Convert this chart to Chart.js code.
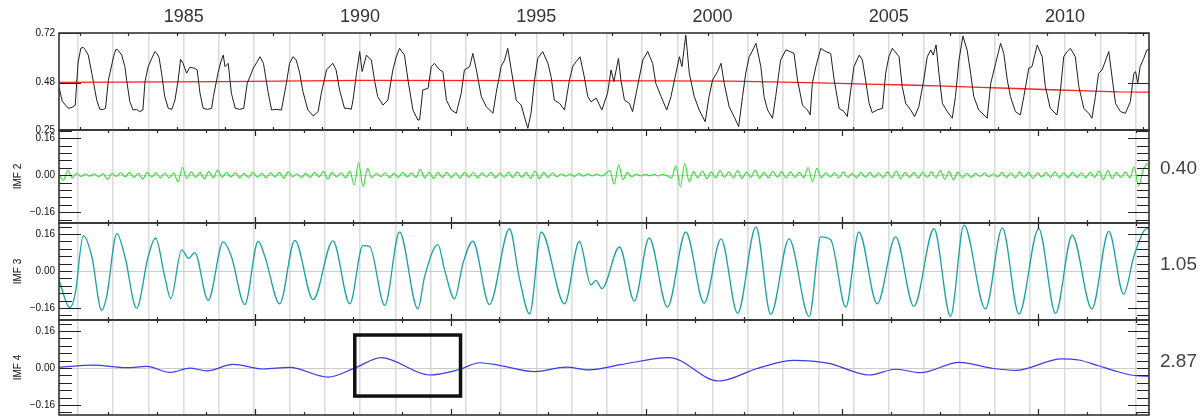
<!DOCTYPE html>
<html>
<head>
<meta charset="utf-8">
<script src="https://cdn.jsdelivr.net/npm/chart.js@4.4.1/dist/chart.umd.min.js"></script>
<style>
  html, body { margin: 0; padding: 0; background: #fff; }
  #wrap { position: relative; width: 1204px; height: 420px; overflow: hidden; }
  #wrap canvas { position: absolute; left: 0; top: 0; }
</style>
</head>
<body>
<div id="wrap">
  <canvas id="p1" width="1204" height="420"></canvas>
  <canvas id="p2" width="1204" height="420"></canvas>
  <canvas id="p3" width="1204" height="420"></canvas>
  <canvas id="p4" width="1204" height="420"></canvas>
</div>
<script>
// time axis (decimal years)
var xMin = 1981.46, xMax = 2012.38;
var gridYears = [1982, 1983, 1984, 1985, 1986, 1987, 1988, 1989, 1990, 1991, 1992, 1993, 1994, 1995, 1996,
  1997, 1998, 1999, 2000, 2001, 2002, 2003, 2004, 2005, 2006, 2007, 2008, 2009, 2010, 2011, 2012];
var yearLabels = [1985, 1990, 1995, 2000, 2005, 2010];

// top panel: observed series
var obsYears = [
  1981.46, 1981.55, 1981.65, 1981.73, 1981.83, 1981.92,
  1982.00, 1982.08, 1982.15, 1982.20, 1982.29, 1982.39, 1982.53, 1982.62, 1982.72, 1982.78, 1982.86,
  1983.00, 1983.07, 1983.12, 1983.24, 1983.33, 1983.38, 1983.47, 1983.56, 1983.66, 1983.75, 1983.84, 1983.90, 1983.99,
  1984.10, 1984.18, 1984.24, 1984.30, 1984.37, 1984.46, 1984.56, 1984.66, 1984.75, 1984.84, 1984.91, 1984.98,
  1985.08, 1985.17, 1985.31, 1985.38, 1985.46, 1985.55, 1985.67, 1985.79, 1985.84, 1985.97,
  1986.05, 1986.12, 1986.17, 1986.26, 1986.35, 1986.46, 1986.58, 1986.70, 1986.80, 1986.97,
  1987.08, 1987.16, 1987.26, 1987.39, 1987.49, 1987.63, 1987.77, 1987.91,
  1988.00, 1988.10, 1988.19, 1988.29, 1988.38, 1988.52, 1988.67, 1988.81, 1988.90,
  1989.05, 1989.15, 1989.23, 1989.32, 1989.42, 1989.56, 1989.66, 1989.75, 1989.80, 1989.90, 1989.99,
  1990.06, 1990.18, 1990.32, 1990.41, 1990.50, 1990.65, 1990.79, 1990.93,
  1991.02, 1991.12, 1991.26, 1991.36, 1991.50, 1991.64, 1991.69, 1991.78, 1991.93,
  1992.02, 1992.11, 1992.26, 1992.35, 1992.45, 1992.59, 1992.73, 1992.87, 1992.96,
  1993.11, 1993.20, 1993.30, 1993.44, 1993.58, 1993.77, 1993.86,
  1994.00, 1994.10, 1994.19, 1994.29, 1994.43, 1994.57, 1994.69, 1994.76, 1994.85, 1994.95,
  1995.04, 1995.18, 1995.33, 1995.42, 1995.51, 1995.66, 1995.80, 1995.94,
  1996.03, 1996.13, 1996.24, 1996.36, 1996.46, 1996.55, 1996.70, 1996.86,
  1997.02, 1997.12, 1997.20, 1997.33, 1997.40, 1997.50, 1997.64, 1997.73, 1997.87,
  1998.02, 1998.16, 1998.30, 1998.39, 1998.54, 1998.70, 1998.82, 1998.96,
  1999.06, 1999.13, 1999.20, 1999.24, 1999.34, 1999.48, 1999.62, 1999.79, 1999.90,
  2000.00, 2000.14, 2000.24, 2000.33, 2000.47, 2000.61, 2000.74, 2000.85, 2000.94,
  2001.04, 2001.12, 2001.23, 2001.37, 2001.46, 2001.56, 2001.70, 2001.79, 2001.93,
  2002.08, 2002.20, 2002.31, 2002.41, 2002.55, 2002.69, 2002.77, 2002.83, 2002.93,
  2003.07, 2003.21, 2003.35, 2003.45, 2003.59, 2003.73, 2003.82, 2003.92,
  2004.01, 2004.16, 2004.25, 2004.34, 2004.44, 2004.53, 2004.67, 2004.82, 2004.91,
  2005.00, 2005.10, 2005.29, 2005.38, 2005.48, 2005.62, 2005.73, 2005.85, 2005.99,
  2006.09, 2006.19, 2006.26, 2006.34, 2006.42, 2006.52, 2006.66, 2006.80, 2006.89, 2006.99,
  2007.10, 2007.22, 2007.32, 2007.41, 2007.55, 2007.70, 2007.79, 2007.89,
  2008.03, 2008.17, 2008.26, 2008.36, 2008.45, 2008.59, 2008.73, 2008.83, 2008.97,
  2009.06, 2009.21, 2009.35, 2009.44, 2009.58, 2009.77, 2009.87, 2009.96,
  2010.06, 2010.15, 2010.29, 2010.39, 2010.53, 2010.67, 2010.76, 2010.86, 2010.95,
  2011.05, 2011.24, 2011.33, 2011.43, 2011.57, 2011.71, 2011.85, 2011.95,
  2012.00, 2012.06, 2012.13, 2012.23, 2012.32, 2012.38
];
var obsValues = [
  0.46, 0.39, 0.37, 0.355, 0.36, 0.37,
  0.575, 0.647, 0.65, 0.64, 0.613, 0.525, 0.395, 0.35, 0.35, 0.355, 0.49,
  0.60, 0.64, 0.64, 0.613, 0.557, 0.49, 0.387, 0.347, 0.35, 0.339, 0.347, 0.484, 0.557,
  0.60, 0.63, 0.62, 0.60, 0.525, 0.412, 0.355, 0.35, 0.395, 0.492, 0.592, 0.573,
  0.525, 0.554, 0.549, 0.541, 0.428, 0.355, 0.35, 0.355, 0.412, 0.525,
  0.58, 0.613, 0.557, 0.573, 0.428, 0.355, 0.35, 0.355, 0.476, 0.549,
  0.58, 0.605, 0.573, 0.436, 0.347, 0.35, 0.347, 0.476,
  0.573, 0.605, 0.589, 0.525, 0.436, 0.347, 0.318, 0.339, 0.428,
  0.541, 0.56, 0.573, 0.541, 0.444, 0.355, 0.355, 0.35, 0.395, 0.525, 0.63,
  0.533, 0.613, 0.589, 0.492, 0.412, 0.371, 0.395, 0.541,
  0.60, 0.646, 0.613, 0.492, 0.347, 0.298, 0.30, 0.444, 0.452,
  0.557, 0.573, 0.541, 0.533, 0.395, 0.347, 0.331, 0.428, 0.541,
  0.557, 0.621, 0.541, 0.412, 0.363, 0.331, 0.428,
  0.557, 0.589, 0.646, 0.541, 0.395, 0.371, 0.298, 0.258, 0.331, 0.492,
  0.597, 0.63, 0.573, 0.508, 0.395, 0.379, 0.347, 0.492,
  0.557, 0.581, 0.605, 0.508, 0.412, 0.387, 0.404, 0.347,
  0.428, 0.541, 0.484, 0.597, 0.492, 0.395, 0.379, 0.339, 0.46,
  0.589, 0.63, 0.573, 0.476, 0.412, 0.347, 0.412, 0.525,
  0.605, 0.557, 0.654, 0.71, 0.525, 0.412, 0.347, 0.29, 0.412,
  0.492, 0.533, 0.573, 0.476, 0.363, 0.315, 0.266, 0.412, 0.525,
  0.605, 0.63, 0.67, 0.557, 0.412, 0.347, 0.307, 0.412, 0.589,
  0.638, 0.63, 0.621, 0.492, 0.371, 0.347, 0.323, 0.476, 0.557,
  0.646, 0.63, 0.621, 0.492, 0.355, 0.339, 0.315, 0.444,
  0.557, 0.613, 0.589, 0.492, 0.379, 0.334, 0.347, 0.355, 0.525,
  0.605, 0.646, 0.605, 0.46, 0.379, 0.347, 0.315, 0.363, 0.492,
  0.605, 0.638, 0.613, 0.662, 0.525, 0.379, 0.339, 0.307, 0.412, 0.589,
  0.705, 0.638, 0.525, 0.412, 0.347, 0.323, 0.307, 0.476,
  0.573, 0.67, 0.621, 0.492, 0.412, 0.339, 0.323, 0.412, 0.549,
  0.557, 0.662, 0.605, 0.46, 0.355, 0.323, 0.444, 0.605,
  0.63, 0.646, 0.605, 0.46, 0.355, 0.331, 0.307, 0.412, 0.525,
  0.541, 0.63, 0.508, 0.379, 0.339, 0.331, 0.387, 0.525,
  0.533, 0.476, 0.557, 0.597, 0.638, 0.64
];

// top panel: trend (red)
var trendYears = [1981.46, 1986.1, 1990.05, 1996.0, 2000.5, 2002.0, 2003.3, 2004.4, 2005.5, 2006.6, 2007.6, 2008.6, 2009.6, 2010.6, 2011.5, 2012.38];
var trendValues = [0.481, 0.484, 0.490, 0.489, 0.487, 0.482, 0.477, 0.472, 0.468, 0.463, 0.457, 0.451, 0.445, 0.440, 0.435, 0.434];

// IMF 2: alternating extremes every 1.5 months
var imf2Start = 1981.46, imf2Step = 0.125;
var imf2Values = [
  0.0, -0.022, 0.02, -0.012, 0.008, -0.006, 0.005, -0.005,
  0.006, -0.008, 0.007, -0.019, 0.008, -0.006, 0.01, -0.008,
  0.012, -0.01, 0.008, -0.017, 0.012, -0.008, 0.01, -0.012,
  0.009, -0.012, 0.01, -0.029, 0.033, -0.014, 0.014, -0.01,
  0.012, -0.016, 0.015, -0.012, 0.022, -0.01, 0.012, -0.008,
  0.01, -0.012, 0.008, -0.01, 0.012, -0.009, 0.008, -0.012,
  0.01, -0.008, 0.012, -0.014, 0.015, -0.008, 0.006, -0.01,
  0.008, -0.01, 0.012, -0.008, 0.016, -0.017, 0.012, -0.008,
  0.01, -0.012, 0.018, -0.043, 0.053, -0.05, 0.029, -0.012,
  0.008, -0.007, 0.01, -0.012, 0.008, -0.01, 0.012, -0.008,
  0.01, -0.01, 0.024, -0.012, 0.012, -0.015, 0.012, -0.01,
  0.012, -0.012, 0.01, -0.013, 0.012, -0.01, 0.011, -0.012,
  0.01, -0.009, 0.012, -0.012, 0.009, -0.01, 0.013, -0.011,
  0.014, -0.01, 0.012, -0.014, 0.017, -0.016, 0.012, -0.01,
  0.01, -0.008, 0.006, -0.005, 0.005, -0.006, 0.008, -0.005,
  0.006, -0.004, 0.005, -0.004, 0.005, 0.02, -0.039, 0.043,
  -0.02, 0.012, -0.008, 0.005, -0.004, 0.004, -0.003, 0.004,
  -0.004, 0.004, -0.003, -0.012, 0.04, -0.05, 0.05, -0.029,
  0.015, -0.012, 0.018, -0.015, 0.014, -0.012, 0.02, -0.01,
  0.014, -0.012, 0.02, -0.015, 0.013, -0.01, 0.022, -0.014,
  0.012, -0.012, 0.017, -0.01, 0.015, -0.012, 0.014, -0.01,
  0.012, -0.012, 0.033, -0.029, 0.029, -0.012, 0.01, -0.008,
  0.01, -0.012, 0.014, -0.01, 0.008, -0.012, 0.012, -0.01,
  0.012, -0.01, 0.01, -0.012, 0.014, -0.012, 0.018, -0.016,
  0.012, -0.01, 0.012, -0.014, 0.012, -0.01, 0.014, -0.012,
  0.02, -0.018, 0.016, -0.02, 0.014, -0.012, 0.008, -0.01,
  0.008, -0.006, 0.01, -0.008, 0.006, -0.008, 0.012, -0.01,
  0.01, -0.012, 0.014, -0.01, 0.012, -0.014, 0.01, -0.008,
  0.012, -0.01, 0.014, -0.012, 0.01, -0.012, 0.012, -0.01,
  0.01, -0.012, 0.012, -0.01, 0.018, -0.02, 0.02, -0.015,
  0.012, -0.01, 0.014, -0.012, 0.036, -0.048, 0.02, 0.053
];

// IMF 3: turning points
var imf3Years = [
  1981.46, 1981.77, 1981.92, 1982.15, 1982.39, 1982.67, 1982.81, 1983.10, 1983.33, 1983.66, 1983.99,
  1984.20, 1984.46, 1984.63, 1984.94, 1985.14, 1985.31, 1985.69, 1986.12, 1986.35, 1986.73,
  1987.11, 1987.30, 1987.72, 1988.15, 1988.67, 1989.23, 1989.71, 1990.08, 1990.27, 1990.70,
  1991.12, 1991.64, 1991.83, 1992.21, 1992.40, 1992.68, 1992.92, 1993.20, 1993.67, 1994.24,
  1994.52, 1994.81, 1995.14, 1995.80, 1996.22, 1996.55, 1996.69, 1996.86, 1997.36, 1997.78,
  1998.20, 1998.72, 1999.24, 1999.76, 2000.24, 2000.71, 2001.23, 2001.65, 2002.17, 2002.74,
  2003.07, 2003.35, 2003.78, 2004.15, 2004.67, 2005.19, 2005.71, 2006.28, 2006.75, 2007.13,
  2007.74, 2008.22, 2008.69, 2009.25, 2009.73, 2010.20, 2010.76, 2011.24, 2011.66, 2011.95,
  2012.27, 2012.38
];
var imf3Values = [
  -0.04, -0.159, -0.098, 0.153, 0.063, -0.171, -0.112, 0.162, 0.063, -0.161, 0.063,
  0.143, -0.025, -0.12, 0.092, 0.055, 0.08, -0.127, 0.126, 0.063, -0.145,
  0.129, 0.063, -0.142, 0.133, -0.124, 0.131, -0.142, 0.11, 0.107, -0.149,
  0.169, -0.164, -0.025, 0.114, 0.004, -0.12, 0.034, 0.129, -0.145, 0.183,
  -0.032, -0.186, 0.169, -0.142, 0.129, -0.06, -0.04, -0.076, 0.104, -0.13,
  0.143, -0.156, 0.169, -0.139, 0.139, -0.183, 0.191, -0.188, 0.139, -0.197,
  0.148, 0.136, -0.156, 0.169, -0.142, 0.148, -0.153, 0.183, -0.197, 0.199,
  -0.164, 0.187, -0.186, 0.184, -0.183, 0.155, -0.164, 0.172, -0.10, 0.063,
  0.18, 0.185
];

// IMF 4: turning points
var imf4Years = [
  1981.46, 1982.43, 1983.38, 1983.95, 1984.61, 1985.17, 1985.65, 1986.40, 1987.25, 1988.00,
  1989.09, 1989.85, 1990.60, 1991.97, 1992.82, 1993.39, 1993.95, 1994.95, 1995.85, 1996.50,
  1997.40, 1998.77, 2000.17, 2001.30, 2002.31, 2003.30, 2004.44, 2005.20, 2005.90, 2006.99,
  2007.90, 2008.60, 2009.90, 2010.39, 2010.95, 2011.50, 2012.00, 2012.38
];
var imf4Values = [
  0.003, 0.013, 0.002, 0.007, -0.019, 0.0, -0.012, 0.016, -0.004, 0.003,
  -0.039, 0.0, 0.045, -0.03, -0.006, 0.023, 0.012, -0.015, 0.004, -0.008,
  0.015, 0.045, -0.056, 0.0, 0.033, 0.02, -0.03, -0.005, -0.02, 0.025,
  0.0, -0.01, 0.04, 0.035, 0.01, -0.016, -0.033, -0.035
];

var periodLabels = ['0.40', '1.05', '2.87'];
var topTicks = [0.25, 0.48, 0.72];
var imfLabelTicks = [-0.16, 0, 0.16];
var imfMinorTicks = [-0.192, -0.16, -0.128, -0.096, -0.064, -0.032, 0, 0.032, 0.064, 0.096, 0.128, 0.16, 0.192];
var imfMajorTicks = [-0.16, 0.16];
var boxYears = [1989.85, 1992.85];
var boxValues = [0.143, -0.121];

var FONT = "'Liberation Sans', Arial, sans-serif";

function pairs(xs, ys) {
  return ys.map(function(v, i) { return {x: xs[i], y: v}; });
}

// frame, inward ticks and the highlight box, drawn from the scales
var framePlugin = {
  id: 'frame',
  afterDatasetsDraw: function(chart, args, opts) {
    var a = chart.chartArea, ctx = chart.ctx;
    var xs = chart.scales.x, ys = chart.scales.y;
    ctx.save();
    ctx.strokeStyle = '#222';
    ctx.lineWidth = 1.2;
    ctx.beginPath();
    (opts.yTicks || []).forEach(function(v) {
      var py = Math.round(ys.getPixelForValue(v)) + 0.5;
      var len = opts.yMajor.indexOf(v) >= 0 ? 22 : 13;
      ctx.moveTo(a.left, py); ctx.lineTo(a.left + len, py);
      ctx.moveTo(a.right, py); ctx.lineTo(a.right - len + 1, py);
    });
    for (var k = 0; ; k++) {
      var v = opts.xStart + k * opts.xStep;
      if (v > xMax) break;
      var px = Math.round(xs.getPixelForValue(v)) + 0.5;
      var len = (opts.xMajor && k % 4 === 3) ? 6 : 3;
      ctx.moveTo(px, a.top); ctx.lineTo(px, a.top + len);
      ctx.moveTo(px, a.bottom); ctx.lineTo(px, a.bottom - len);
    }
    ctx.stroke();
    ctx.lineWidth = 1.6;
    ctx.strokeStyle = '#333';
    ctx.strokeRect(a.left, a.top, a.right - a.left, a.bottom - a.top);
    if (opts.box) {
      var x0 = xs.getPixelForValue(opts.box.x[0]), x1 = xs.getPixelForValue(opts.box.x[1]);
      var y0 = ys.getPixelForValue(opts.box.y[0]), y1 = ys.getPixelForValue(opts.box.y[1]);
      ctx.lineWidth = 3.5;
      ctx.strokeStyle = '#111';
      ctx.strokeRect(x0, y0, x1 - x0, y1 - y0);
    }
    ctx.restore();
  }
};

function noPad(s) { s.paddingTop = 0; s.paddingBottom = 0; }

function makePanel(id, o) {
  return new Chart(document.getElementById(id), {
    type: 'line',
    data: { datasets: o.datasets },
    options: {
      responsive: false,
      animation: false,
      devicePixelRatio: 1,
      layout: { padding: { top: o.top, bottom: o.bottom, left: 0, right: 0 } },
      elements: { point: { radius: 0 } },
      plugins: { legend: { display: false }, tooltip: { enabled: false }, frame: o.frame },
      scales: {
        x: {
          type: 'linear',
          position: o.first ? 'top' : 'bottom',
          min: xMin, max: xMax,
          afterBuildTicks: function(s) { s.ticks = gridYears.map(function(v) { return {value: v}; }); },
          afterFit: function(s) { s.height = o.first ? 33 : 0; },
          ticks: {
            display: !!o.first,
            autoSkip: false,
            maxRotation: 0,
            padding: 5,
            color: '#333',
            font: { family: FONT, size: 18 },
            callback: function(v) { return yearLabels.indexOf(v) >= 0 ? String(v) : ''; }
          },
          grid: { color: '#dcdcdc', lineWidth: 1.6, drawTicks: false },
          border: { display: false }
        },
        y: {
          position: 'left',
          min: o.min, max: o.max,
          afterBuildTicks: function(s) { s.ticks = o.labelTicks.map(function(v) { return {value: v}; }); },
          afterFit: function(s) { s.width = 59; noPad(s); },
          ticks: {
            padding: 4,
            color: '#111',
            font: { family: FONT, size: 10 },
            callback: function(v) { return (v < 0 ? '\u2212' : '') + Math.abs(v).toFixed(2); }
          },
          grid: {
            display: !o.first,
            drawTicks: false,
            color: function(c) { return c.tick && c.tick.value === 0 ? '#cccccc' : 'rgba(0,0,0,0)'; }
          },
          border: { display: false },
          title: {
            display: !!o.title,
            text: o.title || '',
            color: '#111',
            font: { family: FONT, size: 10 },
            padding: { top: 12, bottom: 0 }
          }
        },
        y2: {
          position: 'right',
          min: o.min, max: o.max,
          afterBuildTicks: function(s) { s.ticks = o.period ? [{value: 0}] : []; },
          afterFit: function(s) { s.width = 55; noPad(s); },
          ticks: {
            display: !!o.period,
            padding: 3,
            labelOffset: -6,
            color: '#444',
            font: { family: FONT, size: 19 },
            callback: function() { return o.period || ''; }
          },
          grid: { display: false },
          border: { display: false }
        }
      }
    },
    plugins: [framePlugin]
  });
}

makePanel('p1', {
  first: true, top: 0, bottom: 290, min: 0.25, max: 0.72,
  labelTicks: topTicks,
  frame: { yTicks: topTicks, yMajor: topTicks, xStart: 1982.057, xStep: 1.371, xMajor: false },
  datasets: [
    { data: pairs(obsYears, obsValues), borderColor: '#1e1e1e', borderWidth: 1, tension: 0 },
    { data: pairs(trendYears, trendValues), borderColor: '#ff2020', borderWidth: 1.3, tension: 0 }
  ]
});

makePanel('p2', {
  top: 130, bottom: 197, min: -0.207, max: 0.195, title: 'IMF 2', period: periodLabels[0],
  labelTicks: imfLabelTicks,
  frame: { yTicks: imfMinorTicks, yMajor: imfMajorTicks, xStart: 1982.85, xStep: 1.388, xMajor: true },
  datasets: [
    { data: imf2Values.map(function(v, i) { return {x: imf2Start + i * imf2Step, y: v}; }),
      borderColor: '#2fe02f', borderWidth: 1.1, cubicInterpolationMode: 'monotone' }
  ]
});

makePanel('p3', {
  top: 223, bottom: 100, min: -0.212, max: 0.208, title: 'IMF 3', period: periodLabels[1],
  labelTicks: imfLabelTicks,
  frame: { yTicks: imfMinorTicks, yMajor: imfMajorTicks, xStart: 1982.85, xStep: 1.388, xMajor: true },
  datasets: [
    { data: pairs(imf3Years, imf3Values), borderColor: '#16a2a2', borderWidth: 1.3, cubicInterpolationMode: 'monotone' }
  ]
});

makePanel('p4', {
  top: 320, bottom: 5, min: -0.203, max: 0.208, title: 'IMF 4', period: periodLabels[2],
  labelTicks: imfLabelTicks,
  frame: { yTicks: imfMinorTicks, yMajor: imfMajorTicks, xStart: 1982.85, xStep: 1.388, xMajor: true,
           box: { x: boxYears, y: boxValues } },
  datasets: [
    { data: pairs(imf4Years, imf4Values), borderColor: '#3a3aee', borderWidth: 1.2, cubicInterpolationMode: 'monotone' }
  ]
});
</script>
</body>
</html>
